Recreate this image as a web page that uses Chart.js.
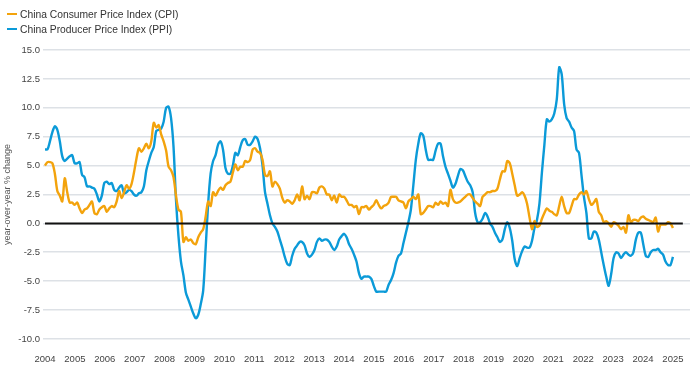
<!DOCTYPE html>
<html>
<head>
<meta charset="utf-8">
<script src="https://cdn.jsdelivr.net/npm/chart.js@4"></script>
<style>
  body { margin: 0; background: #fff; }
  #wrap { position: relative; width: 700px; height: 365px; }
  .key { position: absolute; left: 7px; font: 10.3px "Liberation Sans", Arial, sans-serif; color: #333; display: flex; align-items: center; height: 14px; }
  .key i { display: inline-block; width: 10px; height: 2px; margin-right: 3px; }
</style>
</head>
<body>
<div id="wrap">
  <div class="key" style="top:7px"><i style="background:#f3a30c"></i>China Consumer Price Index (CPI)</div>
  <div class="key" style="top:22px"><i style="background:#0b9ad8"></i>China Producer Price Index (PPI)</div>
  <canvas id="chart" width="700" height="365"></canvas>
</div>
<script>
// monthly, Jun 2004 .. Aug 2025, year-over-year % change
var startMonth = "2004-06";

var cpi = [
  5.0, 5.3, 5.3, 5.2, 4.3, 2.8, 2.4,
  1.9, 3.9, 2.7, 1.8, 1.8, 1.6, 1.8, 1.3, 0.9, 1.2, 1.3, 1.6,
  1.9, 0.9, 0.8, 1.2, 1.4, 1.5, 1.0, 1.3, 1.5, 1.4, 1.9, 2.8,
  2.2, 2.7, 3.3, 3.0, 3.4, 4.4, 5.6, 6.5, 6.2, 6.5, 6.9, 6.5,
  7.1, 8.7, 8.3, 8.5, 7.7, 7.1, 6.3, 4.9, 4.6, 4.0, 2.4, 1.2,
  1.0, -1.6, -1.2, -1.5, -1.4, -1.7, -1.8, -1.2, -0.8, -0.5, 0.6, 1.9,
  1.5, 2.7, 2.4, 2.8, 3.1, 2.9, 3.3, 3.5, 3.6, 4.4, 5.1, 4.6,
  4.9, 4.9, 5.4, 5.3, 5.5, 6.4, 6.5, 6.2, 6.1, 5.5, 4.2, 4.1,
  4.5, 3.2, 3.6, 3.4, 3.0, 2.2, 1.8, 2.0, 1.9, 1.7, 2.0, 2.5,
  2.0, 3.2, 2.1, 2.4, 2.1, 2.7, 2.7, 2.6, 3.1, 3.2, 3.0, 2.5,
  2.5, 2.0, 2.4, 1.8, 2.5, 2.3, 2.3, 2.0, 1.6, 1.6, 1.4, 1.5,
  0.8, 1.4, 1.4, 1.5, 1.2, 1.4, 1.6, 2.0, 1.6, 1.3, 1.5, 1.6,
  1.8, 2.3, 2.3, 2.3, 2.0, 1.9, 1.8, 1.3, 1.9, 2.1, 2.3, 2.1,
  2.5, 0.8, 0.9, 1.2, 1.5, 1.5, 1.4, 1.8, 1.6, 1.9, 1.7, 1.8,
  1.5, 2.9, 2.1, 1.8, 1.8, 1.9, 2.1, 2.3, 2.5, 2.5, 2.2, 1.9,
  1.7, 1.5, 2.3, 2.5, 2.7, 2.7, 2.8, 2.8, 3.0, 3.8, 4.5, 4.5,
  5.4, 5.2, 4.3, 3.3, 2.4, 2.5, 2.7, 2.4, 1.7, 0.5, -0.5, 0.2,
  -0.3, -0.2, 0.4, 0.9, 1.3, 1.1, 1.0, 0.8, 0.7, 1.5, 2.3, 1.5,
  0.9, 0.9, 1.5, 2.1, 2.1, 2.5, 2.7, 2.5, 2.8, 2.1, 1.6, 1.8,
  2.1, 1.0, 0.7, 0.1, 0.2, 0.0, -0.3, 0.1, 0.0, -0.2, -0.5, -0.3,
  -0.8, 0.7, 0.1, 0.3, 0.3, 0.2, 0.5, 0.6, 0.4, 0.3, 0.2, 0.1,
  0.5, -0.7, -0.1, -0.1, -0.1, 0.1, 0.0, -0.4
];

var ppi = [
  6.4, 6.4, 7.1, 7.9, 8.4, 8.1, 7.1,
  5.8, 5.4, 5.6, 5.8, 5.9, 5.2, 5.2, 5.3, 4.2, 4.0, 3.2, 3.2,
  3.1, 3.0, 2.5, 1.9, 2.4, 3.5, 3.6, 3.4, 3.5, 2.9, 2.8, 3.1,
  3.3, 2.6, 2.7, 2.9, 2.8, 2.5, 2.4, 2.6, 2.7, 3.2, 4.6, 5.4,
  6.1, 6.6, 8.0, 8.1, 8.2, 8.8, 10.0, 10.1, 9.1, 6.6, 2.0, -1.1,
  -3.3, -4.5, -6.0, -6.6, -7.2, -7.8, -8.2, -7.9, -7.0, -5.8, -2.1, 1.7,
  4.3, 5.4, 5.9, 6.8, 7.1, 6.4, 4.8, 4.3, 4.3, 5.0, 6.1, 5.9,
  6.6, 7.2, 7.3, 6.8, 6.8, 7.1, 7.5, 7.3, 6.5, 5.0, 2.7, 1.7,
  0.7, 0.0, -0.3, -0.7, -1.4, -2.1, -2.9, -3.5, -3.6, -2.8, -2.2, -1.9,
  -1.6, -1.6, -1.9, -2.6, -2.9, -2.7, -2.3, -1.6, -1.3, -1.5, -1.4, -1.4,
  -1.6, -2.0, -2.3, -2.0, -1.4, -1.1, -0.9, -1.2, -1.8, -2.2, -2.7, -3.3,
  -4.3, -4.8, -4.6, -4.6, -4.6, -4.8, -5.4, -5.9, -5.9, -5.9, -5.9, -5.9,
  -5.3, -4.9, -4.3, -3.4, -2.8, -2.6, -1.7, -0.8, 0.1, 1.2, 3.3, 5.5,
  6.9, 7.8, 7.6, 6.4, 5.5, 5.5, 5.5, 6.3, 6.9, 6.9, 5.8, 4.9,
  4.3, 3.7, 3.1, 3.4, 4.1, 4.7, 4.6, 4.1, 3.6, 3.3, 2.7, 0.9,
  0.1, 0.1, 0.4, 0.9, 0.6, 0.0, -0.3, -0.8, -1.2, -1.6, -1.4, -0.5,
  0.1, -0.4, -1.5, -3.1, -3.7, -3.0, -2.4, -2.0, -2.1, -2.1, -1.5, -0.4,
  0.3, 1.7, 4.4, 6.8, 9.0, 8.8, 9.0, 9.5, 10.7, 13.5, 12.9, 10.3,
  9.1, 8.8, 8.3, 8.0, 6.4, 6.1, 4.2, 2.3, 0.9, -1.3, -1.3, -0.7,
  -0.8, -1.4, -2.5, -3.6, -4.6, -5.4, -4.4, -3.0, -2.5, -2.6, -3.0, -2.7,
  -2.5, -2.7, -2.8, -2.5, -1.4, -0.8, -0.8, -1.8, -2.8, -2.9, -2.5, -2.3,
  -2.3, -2.2, -2.5, -2.7, -3.3, -3.6, -3.6, -2.9
];

var yearLabels = ["2004", "2005", "2006", "2007", "2008", "2009", "2010", "2011",
  "2012", "2013", "2014", "2015", "2016", "2017", "2018", "2019", "2020", "2021",
  "2022", "2023", "2024", "2025"];

// zero reference line runs a few months past the last observation
var zeroLineX = [0, 258];

var lastIdx = cpi.length - 1;

function toPoints(arr) {
  return arr.map(function (v, i) { return { x: i, y: v }; });
}

var lineStyle = { borderWidth: 2.4, pointRadius: 0, fill: false, tension: 0.3 };

new Chart(document.getElementById("chart"), {
  type: "line",
  data: {
    datasets: [
      {
        label: "zero",
        data: zeroLineX.map(function (x) { return { x: x, y: 0 }; }),
        borderColor: "#111",
        borderWidth: 2,
        pointRadius: 0,
        fill: false,
        order: 0
      },
      Object.assign({
        label: "China Consumer Price Index (CPI)",
        data: toPoints(cpi),
        borderColor: "#f3a30c",
        order: 1
      }, lineStyle),
      Object.assign({
        label: "China Producer Price Index (PPI)",
        data: toPoints(ppi),
        borderColor: "#0b9ad8",
        order: 2
      }, lineStyle)
    ]
  },
  options: {
    responsive: false,
    animation: false,
    layout: { padding: { top: 50, right: 10, bottom: 0, left: 0 } },
    plugins: {
      legend: { display: false },
      tooltip: { enabled: false }
    },
    scales: {
      x: {
        type: "linear",
        min: -0.8,
        max: lastIdx + 6.9,
        grid: { display: false },
        border: { display: false },
        afterBuildTicks: function (scale) {
          scale.ticks = yearLabels.map(function (y, i) {
            return { value: i * lastIdx / (yearLabels.length - 1) };
          });
        },
        afterFit: function (scale) { scale.height = 26; },
        ticks: {
          autoSkip: false,
          maxRotation: 0,
          padding: 7,
          color: "#444",
          font: { family: "'Liberation Sans', Arial, sans-serif", size: 9.5 },
          callback: function (v, i) { return yearLabels[i]; }
        }
      },
      y: {
        min: -10,
        max: 15,
        afterFit: function (scale) { scale.width = 43; },
        border: { display: false },
        grid: {
          drawTicks: false,
          color: "#dde1e6",
          lineWidth: 1.6
        },
        ticks: {
          stepSize: 2.5,
          padding: 3,
          color: "#444",
          font: { family: "'Liberation Sans', Arial, sans-serif", size: 9.5 },
          callback: function (v) { return v.toFixed(1); }
        },
        title: {
          display: true,
          text: "year-over-year % change",
          color: "#555",
          padding: { top: 2, bottom: 2 },
          font: { family: "'Liberation Sans', Arial, sans-serif", size: 9 }
        }
      }
    }
  }
});
</script>
</body>
</html>
